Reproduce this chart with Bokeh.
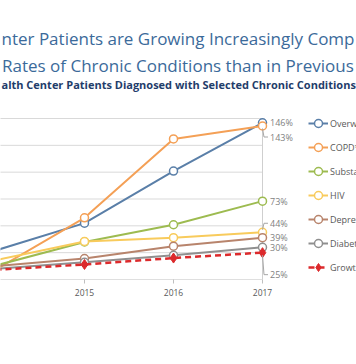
from bokeh.plotting import figure
from bokeh.models import Range1d, Label, Legend, LegendItem, FixedTicker, ColumnDataSource
from bokeh.embed import file_html
from bokeh.resources import INLINE
from bokeh.core.properties import value

# ---- data ----
years = [2014, 2015, 2016, 2017]
overweight = [27, 52.5, 101, 146]
copd = [9, 57.5, 131, 143]
substance = [13, 35, 51, 73]
hiv = [18, 35.5, 39, 44]
depression = [12.5, 19.5, 31, 39]
diabetes = [10, 16, 22.5, 30]
growth = [9, 14, 20, 25]
series_names = ["Overweight/Obesity", "COPD*", "Substance Use Disorder", "HIV",
                "Depression/Anxiety", "Diabetes", "Growth in Total Patients"]
end_labels = ["146%", "143%", "73%", "44%", "39%", "30%", "25%"]
y_grid_values = [0, 25, 50, 75, 100, 125, 150]
title_line1 = "nter Patients are Growing Increasingly Comp"
title_line2 = "Rates of Chronic Conditions than in Previous"
subtitle = "alth Center Patients Diagnosed with Selected Chronic Conditions"

# ---- layout / styles ----
W, H = 356, 364
FRAME_BOTTOM = 279
PX_PER_YEAR = 89.0
X_2015 = 84.0
PX_PER_UNIT = 161.0 / 150.0
FONT = "Open Sans"

colors = ["#5a7fa8", "#f4a056", "#9dbb50", "#f8cb5c", "#b8846c", "#8f8f8f", "#dc2a2c"]
label_dy_px = [0, 11, 0, -9, 0, 0, 22]

p = figure(width=W, height=H, output_backend="svg", toolbar_location=None, title=None,
           x_range=Range1d(2015 - X_2015 / PX_PER_YEAR, 2015 + (W - X_2015) / PX_PER_YEAR),
           y_range=Range1d(0, FRAME_BOTTOM / PX_PER_UNIT),
           y_axis_location=None,
           min_border_left=0, min_border_right=0, min_border_top=0,
           min_border_bottom=H - FRAME_BOTTOM)
p.outline_line_color = None
p.grid.visible = False
p.background_fill_color = "white"
p.border_fill_color = "white"

x_first = p.x_range.start - 1
x_last = years[-1]

# gridlines and axis line up to last category
p.segment(x0=[x_first] * len(y_grid_values), y0=y_grid_values,
          x1=[x_last] * len(y_grid_values), y1=y_grid_values,
          line_color=["#bfbfbf"] + ["#d9d9d9"] * (len(y_grid_values) - 1), line_width=1)
p.segment(x0=[x_last], y0=[y_grid_values[0]], x1=[x_last], y1=[y_grid_values[-1]],
          line_color="#cfcfcf", line_width=1)

xa = p.xaxis[0]
xa.ticker = FixedTicker(ticks=years)
xa.axis_line_color = None
xa.major_tick_line_color = "#bfbfbf"
xa.major_tick_in = 0
xa.major_tick_out = 4
xa.minor_tick_line_color = None
xa.major_label_text_font = FONT
xa.major_label_text_font_size = "8.5px"
xa.major_label_text_color = "#595959"
xa.major_label_standoff = 5

# partial 2014 label at the left edge
p.add_layout(Label(x=years[0], y=-(291.5 - FRAME_BOTTOM), x_units="data", y_units="screen",
                   text=str(years[0]), text_align="center", text_baseline="middle",
                   text_font=FONT, text_font_size="8.5px", text_color="#595959"))

all_series = [overweight, copd, substance, hiv, depression, diabetes, growth]
items = []
for i, (name, vals) in enumerate(zip(series_names, all_series)):
    c = colors[i]
    if i == len(all_series) - 1:
        lr = p.line(years, vals, line_color=c, line_width=2.5, line_dash="6 4")
        sr = p.scatter(years, vals, marker="diamond", size=10, line_color=c, fill_color=c)
    else:
        lr = p.line(years, vals, line_color=c, line_width=2)
        sr = p.scatter(years, vals, marker="circle", size=8, line_color=c,
                       fill_color="white", line_width=1.5)
    items.append(LegendItem(label=name, renderers=[lr, sr]))

# end-of-line data labels with leader lines
last_vals = [s[-1] for s in all_series]
src = ColumnDataSource(dict(x=[years[-1]] * len(last_vals), y=last_vals,
                            t=end_labels, dy=label_dy_px))
p.text(x="x", y="y", text="t", source=src, x_offset=7.5, y_offset="dy",
       text_baseline="middle", text_align="left", text_font=value(FONT),
       text_font_size="9px", text_color="#7f7f7f")

lx, ly = [], []
for v, dy in zip(last_vals, label_dy_px):
    if abs(dy) > 4:
        sgn = 1 if dy > 0 else -1
        y0 = v - sgn * 2.5 / PX_PER_UNIT
        y1 = v - dy / PX_PER_UNIT
        lx.append([x_last, x_last + 1.5 / PX_PER_YEAR, x_last + 5.5 / PX_PER_YEAR])
        ly.append([y0, y1, y1])
p.multi_line(lx, ly, line_color="#a6a6a6", line_width=1)

legend = Legend(items=items, location=(308, 2), glyph_width=20, glyph_height=20,
                spacing=4, padding=0, margin=0, border_line_color=None,
                background_fill_alpha=0, label_text_font=FONT,
                label_text_font_size="9px", label_text_color="#595959",
                label_standoff=2)
p.add_layout(legend)

# titles
p.add_layout(Label(x=1, y=FRAME_BOTTOM - 37.7, x_units="screen", y_units="screen",
                   text=title_line1, text_font=FONT, text_font_size="17px",
                   text_color="#3b6a9a", text_baseline="alphabetic"))
p.add_layout(Label(x=1.5, y=FRAME_BOTTOM - 64.5, x_units="screen", y_units="screen",
                   text=title_line2, text_font=FONT, text_font_size="17px",
                   text_color="#3b6a9a", text_baseline="alphabetic"))
p.add_layout(Label(x=1, y=FRAME_BOTTOM - 84.3, x_units="screen", y_units="screen",
                   text=subtitle, text_font=FONT, text_font_size="11px",
                   text_font_style="bold", text_color="#1f3d6b",
                   text_baseline="alphabetic"))

open("out.html", "w").write(file_html(p, INLINE))
